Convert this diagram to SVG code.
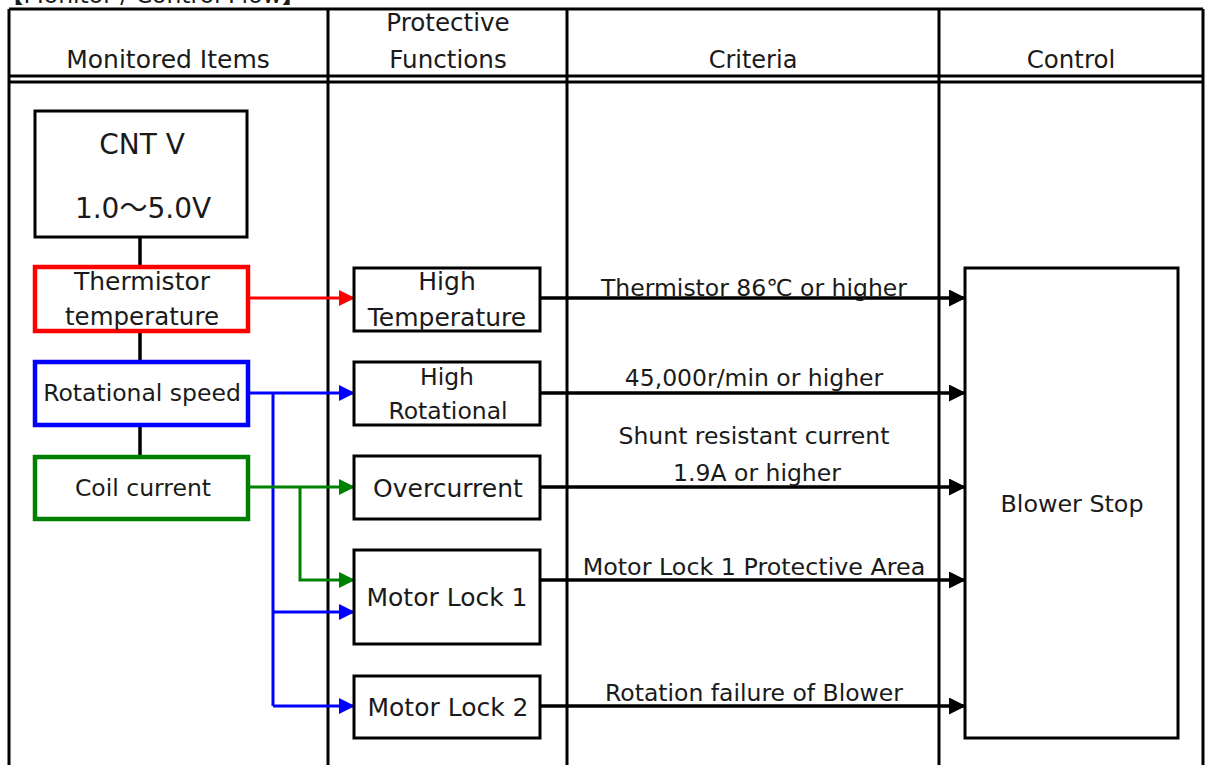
<svg xmlns="http://www.w3.org/2000/svg" width="1208" height="765" viewBox="0 0 1208 765">
<style>
text{font-family:"DejaVu Sans","Noto Sans CJK JP",sans-serif;font-size:23.5px;fill:#1a1a1a;text-anchor:middle}
.l{font-size:25px}
.xl{font-size:28px}
.grid{stroke:#000;stroke-width:3;fill:none}
.box{fill:#fff;stroke:#000;stroke-width:3}
.k{stroke:#000;stroke-width:3.5;fill:none}
.r{stroke:#ff0000;stroke-width:3;fill:none}
.b{stroke:#0000ff;stroke-width:3;fill:none}
.g{stroke:#008000;stroke-width:3;fill:none}
</style>
<defs>
<marker id="ak" markerUnits="userSpaceOnUse" markerWidth="17" markerHeight="17" refX="16" refY="8.5" orient="auto"><path d="M0,0 L17,8.5 L0,17 z" fill="#000"/></marker>
<marker id="ar" markerUnits="userSpaceOnUse" markerWidth="16" markerHeight="16" refX="15" refY="8" orient="auto"><path d="M0,0 L16,8 L0,16 z" fill="#ff0000"/></marker>
<marker id="ab" markerUnits="userSpaceOnUse" markerWidth="16" markerHeight="16" refX="15" refY="8" orient="auto"><path d="M0,0 L16,8 L0,16 z" fill="#0000ff"/></marker>
<marker id="ag" markerUnits="userSpaceOnUse" markerWidth="16" markerHeight="16" refX="15" refY="8" orient="auto"><path d="M0,0 L16,8 L0,16 z" fill="#008000"/></marker>
</defs>
<rect width="1208" height="765" fill="#fff"/>
<text x="0" y="3" style="text-anchor:start">【Monitor / Control Flow】</text>
<g id="table">
<path class="grid" d="M9,9 H1203 M9,76 H1203 M9,82 H1203 M9,9 V765 M328,9 V765 M567,9 V765 M939,9 V765 M1203,9 V765"/>
<text class="l" x="168" y="68">Monitored Items</text>
<text x="448" y="31" style="font-size:24.6px">Protective</text>
<text x="448" y="68" style="font-size:24.6px">Functions</text>
<text x="753" y="68" style="font-size:24px">Criteria</text>
<text x="1071" y="68" style="font-size:24.5px">Control</text>
</g>
<g id="connectors">
<path class="k" d="M140,237 V267 M140,331 V362 M140,425 V457"/>
<path class="r" d="M250,298 H354" marker-end="url(#ar)"/>
<path class="b" d="M248,393 H354" marker-end="url(#ab)"/>
<path class="b" d="M273,393 V706"/>
<path class="b" d="M273,612 H354" marker-end="url(#ab)"/>
<path class="b" d="M273,706 H354" marker-end="url(#ab)"/>
<path class="g" d="M248,487 H354" marker-end="url(#ag)"/>
<path class="g" d="M300,487 V580 H354" marker-end="url(#ag)"/>
<path class="k" d="M540,298 H965" marker-end="url(#ak)"/>
<path class="k" d="M540,393 H965" marker-end="url(#ak)"/>
<path class="k" d="M540,487 H965" marker-end="url(#ak)"/>
<path class="k" d="M540,580 H965" marker-end="url(#ak)"/>
<path class="k" d="M540,706 H965" marker-end="url(#ak)"/>
<text x="754" y="296">Thermistor 86℃ or higher</text>
<text x="754" y="386">45,000r/min or higher</text>
<text x="754" y="444">Shunt resistant current</text>
<text x="757" y="481">1.9A or higher</text>
<text x="754" y="575" style="font-size:23.8px">Motor Lock 1 Protective Area</text>
<text x="754" y="701">Rotation failure of Blower</text>
</g>
<g id="cntv">
<rect class="box" x="35" y="111" width="212" height="126"/>
<text class="xl" x="142" y="154">CNT V</text>
<text class="xl" x="143" y="218">1.0〜5.0V</text>
</g>
<g id="thermistor">
<rect x="35" y="267" width="213" height="64" fill="#fff" stroke="#ff0000" stroke-width="4.5"/>
<text class="l" x="142" y="290">Thermistor</text>
<text x="142" y="325" style="font-size:24.5px">temperature</text>
</g>
<g id="rotational">
<rect x="35" y="362" width="213" height="63" fill="#fff" stroke="#0000ff" stroke-width="4.5"/>
<text x="142" y="401">Rotational speed</text>
</g>
<g id="coil">
<rect x="35" y="457" width="213" height="62" fill="#fff" stroke="#008000" stroke-width="4.5"/>
<text x="143" y="496">Coil current</text>
</g>
<g id="hightemp">
<rect class="box" x="354" y="268" width="186" height="63"/>
<text class="l" x="447" y="290">High</text>
<text class="l" x="447" y="326">Temperature</text>
</g>
<g id="highrot">
<rect class="box" x="354" y="362" width="186" height="63"/>
<text x="447" y="385">High</text>
<text x="448" y="419">Rotational</text>
</g>
<g id="overcurrent">
<rect class="box" x="354" y="456" width="186" height="63"/>
<text class="l" x="448" y="497">Overcurrent</text>
</g>
<g id="lock1">
<rect class="box" x="354" y="550" width="186" height="94"/>
<text class="l" x="447" y="606">Motor Lock 1</text>
</g>
<g id="lock2">
<rect class="box" x="354" y="676" width="186" height="62"/>
<text class="l" x="448" y="716">Motor Lock 2</text>
</g>
<g id="blower">
<rect class="box" x="965" y="268" width="213" height="470"/>
<text x="1072" y="512" style="font-size:23.8px">Blower Stop</text>
</g>
</svg>
